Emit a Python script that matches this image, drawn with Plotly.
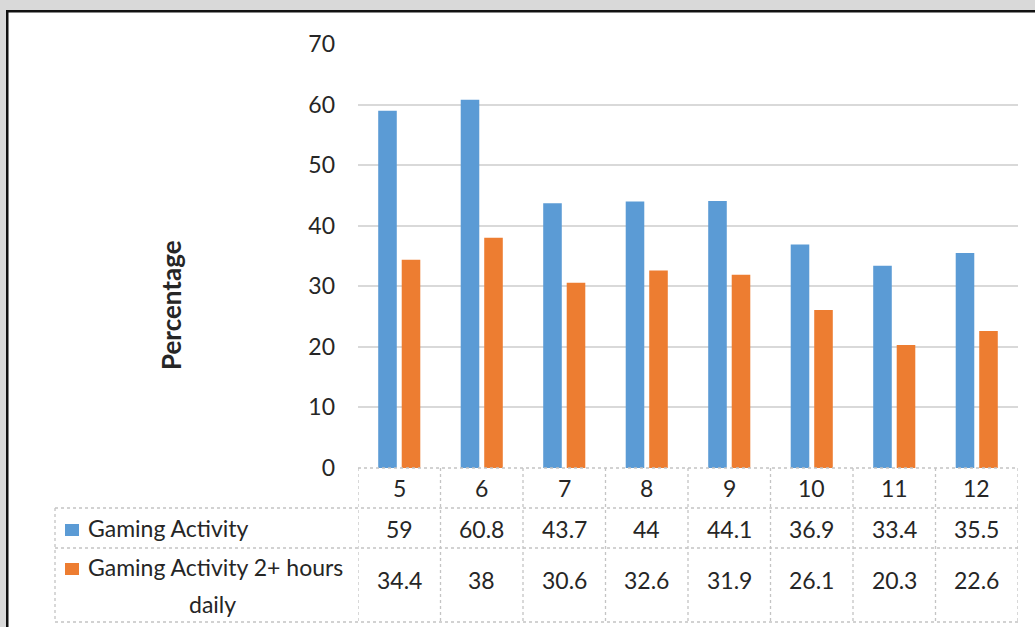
import plotly.graph_objects as go

# Data
grades = ["5", "6", "7", "8", "9", "10", "11", "12"]
gaming_activity = [59, 60.8, 43.7, 44, 44.1, 36.9, 33.4, 35.5]
gaming_2plus_hours = [34.4, 38, 30.6, 32.6, 31.9, 26.1, 20.3, 22.6]
series_names = ["Gaming Activity", "Gaming Activity 2+ hours daily"]
series_colors = ["#5B9BD5", "#ED7D31"]

W, H = 1035, 627
L, R, T, B = 358, 1018, 44, 468  # plot area in pixels

def px(x):
    return (x - L) / (R - L)

def py(y):
    return (B - y) / (B - T)

FONT = "Lato"
TXT = "#262626"
GRID = "#d9d9d9"
TABLE = "#c4c4c4"

fig = go.Figure()
for name, vals, col in zip(series_names, [gaming_activity, gaming_2plus_hours], series_colors):
    fig.add_trace(go.Bar(x=grades, y=vals, name=name, marker=dict(color=col, line=dict(width=0))))

shapes = []
# frame: grey margin and dark border
shapes.append(dict(type="rect", xref="paper", yref="paper", x0=px(0), x1=px(W), y0=py(0), y1=py(10),
                   fillcolor="#d9d9d9", line=dict(width=0), layer="above"))
shapes.append(dict(type="rect", xref="paper", yref="paper", x0=px(0), x1=px(6), y0=py(0), y1=py(H),
                   fillcolor="#d9d9d9", line=dict(width=0), layer="above"))
shapes.append(dict(type="rect", xref="paper", yref="paper", x0=px(6), x1=px(W), y0=py(10), y1=py(12.5),
                   fillcolor="#111111", line=dict(width=0), layer="above"))
shapes.append(dict(type="rect", xref="paper", yref="paper", x0=px(6), x1=px(8.5), y0=py(10), y1=py(H),
                   fillcolor="#111111", line=dict(width=0), layer="above"))

# data table grid
tl = dict(color=TABLE, width=1.3, dash="dot")
shapes.append(dict(type="line", xref="paper", yref="paper", x0=px(L), x1=px(R), y0=py(468), y1=py(468), line=tl))
for yy in (508, 548, 622):
    shapes.append(dict(type="line", xref="paper", yref="paper", x0=px(55), x1=px(R), y0=py(yy), y1=py(yy), line=tl))
shapes.append(dict(type="line", xref="paper", yref="paper", x0=px(55), x1=px(55), y0=py(508), y1=py(622), line=tl))
for i in range(len(grades) + 1):
    shapes.append(dict(type="line", xref="x", yref="paper", x0=i - 0.5, x1=i - 0.5, y0=py(468), y1=py(622), line=tl))

# legend keys in the table
for col, (y0, y1) in zip(series_colors, [(524, 536), (563, 575)]):
    shapes.append(dict(type="rect", xref="paper", yref="paper", x0=px(65), x1=px(79), y0=py(y0), y1=py(y1),
                       fillcolor=col, line=dict(width=0)))

annotations = []
tf = dict(family=FONT, size=23, color=TXT)
for i, g in enumerate(grades):
    annotations.append(dict(x=i, xref="x", y=py(488), yref="paper", text=g, showarrow=False, font=tf,
                            xanchor="center", yanchor="middle"))
    annotations.append(dict(x=i, xref="x", y=py(529), yref="paper", text=f"{gaming_activity[i]:g}", showarrow=False,
                            font=tf, xanchor="center", yanchor="middle"))
    annotations.append(dict(x=i, xref="x", y=py(580), yref="paper", text=f"{gaming_2plus_hours[i]:g}", showarrow=False,
                            font=tf, xanchor="center", yanchor="middle"))

annotations.append(dict(x=px(86), xref="paper", y=py(528), yref="paper", text="Gaming Activity", showarrow=False,
                        font=tf, xanchor="left", yanchor="middle"))
annotations.append(dict(x=px(86), xref="paper", y=py(567), yref="paper", text="Gaming Activity 2+ hours", showarrow=False,
                        font=tf, xanchor="left", yanchor="middle"))
annotations.append(dict(x=px(212), xref="paper", y=py(604), yref="paper", text="daily", showarrow=False,
                        font=tf, xanchor="center", yanchor="middle"))
annotations.append(dict(x=px(171), xref="paper", y=py(305), yref="paper", text="<b>Percentage</b>", showarrow=False,
                        font=dict(family=FONT, size=26, color=TXT), textangle=-90,
                        xanchor="center", yanchor="middle"))

fig.update_layout(
    width=W, height=H,
    margin=dict(l=L, r=W - R, t=T, b=H - B, pad=0),
    paper_bgcolor="white", plot_bgcolor="white",
    barmode="group", bargap=0.43, bargroupgap=0.21,
    showlegend=False,
    shapes=shapes, annotations=annotations,
    font=dict(family=FONT, size=23, color=TXT),
)
fig.update_xaxes(type="category", showticklabels=False, showgrid=False, zeroline=False, showline=False,
                 range=[-0.5, len(grades) - 0.5])
fig.update_yaxes(range=[0, 70], dtick=10, showgrid=True, gridcolor=GRID, gridwidth=2, zeroline=False,
                 showline=False, ticks="", ticklabelstandoff=22, tickfont=dict(family=FONT, size=23, color=TXT))

fig.write_html("out.html")
